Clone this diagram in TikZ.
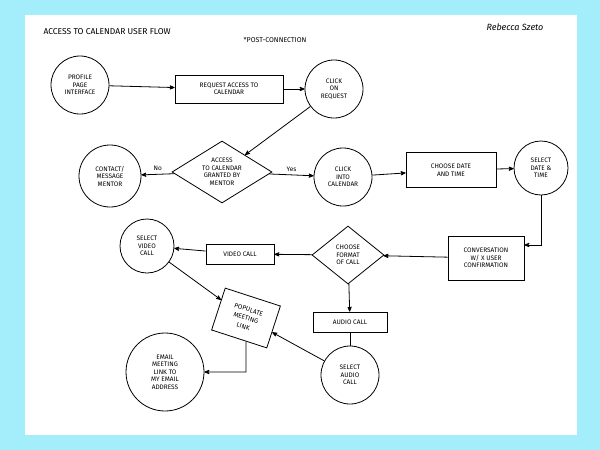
\documentclass[tikz,border=0pt]{standalone}
\usepackage{fontspec}
\setmainfont{Fira Sans}
\usetikzlibrary{shapes.geometric, positioning, arrows}
\definecolor{frame}{HTML}{A4EEFB}
\tikzset {
    >=stealth',
    x=1pt, y=-1pt,
    every node/.style={font=\fontsize{6.5}{7.5}\selectfont, align=center},
    step/.style={draw, thick, circle, minimum size=#1, inner sep=1pt},
    box/.style={draw, thick, rectangle, inner sep=3pt},
    choice/.style={draw, thick, diamond, aspect=1.6, inner sep=0pt},
    flow/.style={->, thick}
}

\begin{document}
\begin{tikzpicture}
                \fill[frame] (0,0) rectangle (600,450);
                \fill[white] (25,15) rectangle (577,435);
                \useasboundingbox (0,0) rectangle (600,450);

                \node[font=\fontsize{8.5}{9}\selectfont, anchor=west] (title) at (40,32) {ACCESS TO CALENDAR USER FLOW};
                \node[font=\fontsize{7}{8}\selectfont] (note) at (275,40) {*POST-CONNECTION};
                \node[font=\itshape\fontsize{9}{10}\selectfont] (name) at (515,27) {Rebecca Szeto};

                \node[step=58pt] (profile) at (80,85) {PROFILE\\PAGE\\INTERFACE};
                \node[box, minimum width=108pt, minimum height=28pt] (request) at (229,89) {REQUEST ACCESS TO\\CALENDAR};
                \node[step=58pt] (clickreq) at (334,89) {CLICK\\ON\\REQUEST};
                \node[choice, minimum width=100pt, minimum height=62pt] (access) at (222,172) {ACCESS\\TO CALENDAR\\GRANTED BY\\MENTOR};
                \node[step=62pt] (contact) at (110,176) {CONTACT/\\MESSAGE\\MENTOR};
                \node[step=58pt] (clickcal) at (343,177) {CLICK\\INTO\\CALENDAR};
                \node[box, minimum width=90pt, minimum height=35pt] (date) at (451,170) {CHOOSE DATE\\AND TIME};
                \node[step=54pt] (seldate) at (541,168) {SELECT\\DATE \&\\TIME};
                \node[box, minimum width=76pt, minimum height=44pt] (confirm) at (486,258) {CONVERSATION\\W/ X USER\\CONFIRMATION};
                \node[choice, minimum width=72pt, minimum height=58pt] (format) at (348,255) {CHOOSE\\FORMAT\\OF CALL};
                \node[box, minimum width=68pt, minimum height=20pt] (video) at (240,254) {VIDEO CALL};
                \node[step=54pt] (selvideo) at (147,246) {SELECT\\VIDEO\\CALL};
                \node[box, minimum width=74pt, minimum height=20pt] (audio) at (350,322) {AUDIO CALL};
                \node[step=58pt] (selaudio) at (350,375) {SELECT\\AUDIO\\CALL};
                \node[box, rotate=-18, minimum width=58pt, minimum height=44pt, font=\fontsize{6.5}{9}\selectfont] (link) at (246,318) {POPULATE\\MEETING\\LINK};
                \node[step=78pt] (email) at (165,372) {EMAIL\\MEETING\\LINK TO\\MY EMAIL\\ADDRESS};
                \coordinate (turn1) at (541,245);
                \coordinate (turn2) at (246,372);

                \draw[flow] (profile) -- (request);
                \draw[flow] (request) -- (clickreq);
                \draw[flow] (clickreq) -- (access);
                \draw[flow] (access) -- node[above]{No} (contact);
                \draw[flow] (access) -- node[above]{Yes} (clickcal);
                \draw[flow] (clickcal) -- (date);
                \draw[flow] (date) -- (seldate);
                \draw[flow] (seldate) -- (turn1) -- (confirm.east |- turn1);
                \draw[flow] (confirm) -- (format);
                \draw[flow] (format) -- (video);
                \draw[flow] (video) -- (selvideo);
                \draw[flow] (format) -- (audio);
                \draw[thick] (audio) -- (selaudio);
                \draw[flow] (selvideo) -- (link);
                \draw[flow] (selaudio) -- (link);
                \draw[flow] (link) -- (turn2) -- (email);
            \end{tikzpicture}
\end{document}
